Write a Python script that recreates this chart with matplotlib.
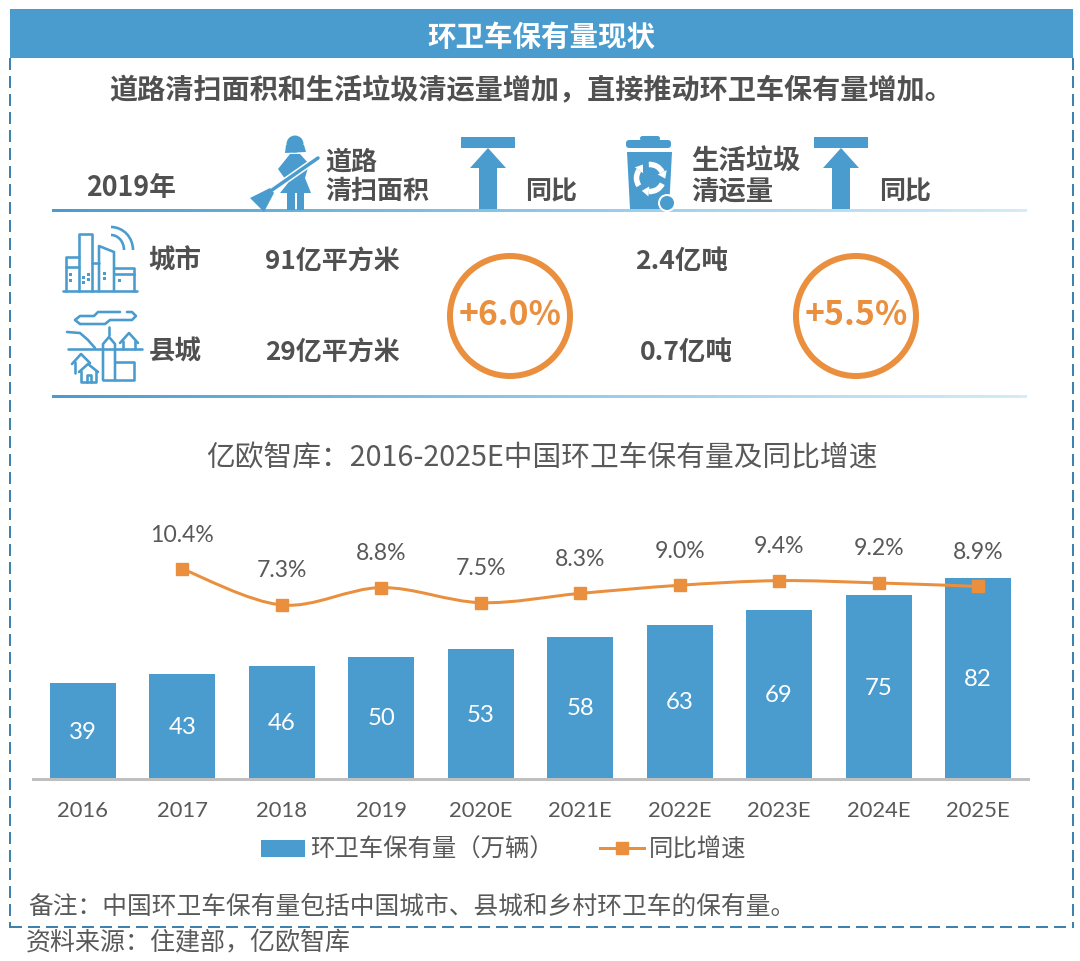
import matplotlib
matplotlib.use('Agg')
import matplotlib.pyplot as plt
import numpy as np
from matplotlib.patches import Rectangle, Circle, Polygon, FancyBboxPatch, PathPatch, Arc
from matplotlib.path import Path
from matplotlib.colors import LinearSegmentedColormap
from matplotlib.lines import Line2D

plt.rcParams['font.family'] = ['Noto Sans CJK SC', 'DejaVu Sans']

# chart data
years = ['2016', '2017', '2018', '2019', '2020E', '2021E', '2022E', '2023E', '2024E', '2025E']
fleet = [39, 43, 46, 50, 53, 58, 63, 69, 75, 82]
growth = [None, 10.4, 7.3, 8.8, 7.5, 8.3, 9.0, 9.4, 9.2, 8.9]

# summary table text
row_names = ['城市', '县城']
road_area = ['91亿平方米', '29亿平方米']
garbage = ['2.4亿吨', '0.7亿吨']
road_yoy = '+6.0%'
garbage_yoy = '+5.5%'

BLUE = '#4A9CCE'
ORANGE = '#E98F3D'
DARK = '#505050'
GREY = '#595959'
NUM_FONT = ['Lato', 'Noto Sans CJK SC']
W, H = 1080, 961

fig = plt.figure(figsize=(W / 100, H / 100), dpi=100)

# overlay in pixel coordinates for the infographic part
ov = fig.add_axes([0, 0, 1, 1])
ov.set_xlim(0, W)
ov.set_ylim(H, 0)
ov.axis('off')

def px(v):
    return v * 0.72

def label(x, y, s, size, color=DARK, weight='bold', ha='left'):
    # the CJK face sits a little high when centred, hence the nudge
    ov.text(x, y + 2.5, s, fontsize=px(size), color=color, fontweight=weight, ha=ha, va='center', zorder=4)

def rule(y):
    cmap = LinearSegmentedColormap.from_list('r', [BLUE, '#8FC8E8', '#D5EBF7'])
    ov.imshow(np.linspace(0, 1, 256).reshape(1, -1), cmap=cmap, aspect='auto',
              extent=(52, 1027, y + 1.5, y - 1.5), zorder=1)

def lines(pts, lw=2.6, color=BLUE):
    xs, ys = zip(*pts)
    ov.add_line(Line2D(xs, ys, lw=px(lw), color=color, solid_capstyle='round', solid_joinstyle='round', zorder=3))

def up_arrow(xc):
    ov.add_patch(Rectangle((xc - 27, 137), 54, 10.5, fc=BLUE, ec='none', zorder=3))
    ov.add_patch(Polygon([(xc, 148), (xc + 18, 168), (xc + 9, 168), (xc + 9, 209), (xc - 9, 209),
                          (xc - 9, 168), (xc - 18, 168)], fc=BLUE, ec='none', zorder=3))

def sweeper():
    ov.add_patch(Circle((295, 144), 8.5, fc=BLUE, ec='none', zorder=3))
    ov.add_patch(Polygon([(286, 145), (304, 145), (306, 152), (285, 153)], fc=BLUE, ec='none', zorder=3))
    ov.add_patch(Polygon([(290, 154), (300, 154), (309, 164), (305, 178), (311, 193), (280, 193),
                          (288, 183), (278, 169)], fc=BLUE, ec='none', zorder=3))
    ov.add_patch(Rectangle((287, 193), 8, 17, fc=BLUE, ec='none', zorder=3))
    ov.add_patch(Rectangle((297, 193), 7, 17, fc=BLUE, ec='none', zorder=3))
    lines([(272, 190), (318, 158)], lw=6.5, color='white')
    lines([(272, 190), (318, 158)], lw=3.5)
    ov.add_patch(Polygon([(250, 198), (270, 188), (274, 193), (264, 212)], fc=BLUE, ec='none', zorder=4))

def trash_can():
    ov.add_patch(FancyBboxPatch((640, 136), 20, 5, boxstyle='round,pad=0,rounding_size=2.5', fc=BLUE, ec='none', zorder=3))
    ov.add_patch(FancyBboxPatch((626, 140), 45, 8, boxstyle='round,pad=0,rounding_size=3', fc=BLUE, ec='none', zorder=3))
    ov.add_patch(Polygon([(627, 152), (672, 152), (669, 209), (630, 209)], fc=BLUE, ec='none', zorder=3))
    ov.add_patch(Circle((667, 203), 8, fc=BLUE, ec='white', lw=px(2), zorder=4))
    # recycling mark
    for a in [25, 145, 265]:
        ov.add_patch(Arc((650, 178), 27, 27, theta1=a, theta2=a + 70, color='white', lw=px(5.5), zorder=4))
        t = np.deg2rad(a + 70)
        x0, y0 = 650 + 13.5 * np.cos(t), 178 + 13.5 * np.sin(t)
        ov.add_patch(Polygon([(x0 - 5 * np.cos(t), y0 - 5 * np.sin(t)), (x0 + 5 * np.cos(t), y0 + 5 * np.sin(t)),
                              (x0 - 7 * np.sin(t), y0 + 7 * np.cos(t))], fc='white', ec='none', zorder=4))

def city():
    lines([(63, 291), (137, 291)])
    lines([(66, 291), (66, 257), (79, 257), (79, 291)])
    lines([(66, 267), (79, 267)])
    lines([(79, 257), (79, 234), (92, 234), (92, 291)])
    lines([(92, 263), (99, 263)])
    lines([(99, 291), (99, 246), (114, 252), (114, 291)])
    lines([(114, 268), (134, 268), (134, 291)])
    lines([(114, 274), (134, 274)])
    ov.add_patch(Arc((111, 250), 44, 46, theta1=270, theta2=360, color=BLUE, lw=px(2.6), zorder=3))
    ov.add_patch(Arc((111, 250), 26, 30, theta1=270, theta2=360, color=BLUE, lw=px(2.6), zorder=3))
    for x, y in [(69, 273), (69, 279), (82, 276), (82, 281), (87, 273), (87, 278), (103, 272), (103, 277), (118, 279)]:
        ov.add_patch(Rectangle((x, y), 2.5, 2.5, fc=BLUE, ec='none', zorder=3))

def county():
    lines([(80, 324), (105, 324), (110, 320), (132, 320), (136, 316), (132, 312), (127, 312)])
    lines([(120, 312), (98, 312), (94, 316), (80, 316), (75, 320), (80, 324)])
    lines([(68, 349), (142, 349)])
    lines([(67, 332), (80, 333), (88, 340), (95, 348)])
    lines([(109, 327), (109, 335)])
    lines([(103, 380), (103, 344), (109, 337), (115, 344), (115, 380)])
    lines([(115, 362), (134, 362), (134, 380), (103, 380)])
    lines([(120, 343), (129, 333), (138, 343)])
    lines([(123, 341), (123, 349)])
    lines([(135, 341), (135, 349)])
    lines([(72, 364), (81, 354), (90, 363)])
    lines([(75, 362), (75, 373)])
    lines([(79, 372), (88, 364), (98, 372)])
    lines([(81, 371), (81, 382), (96, 382), (96, 371)])
    lines([(87, 382), (87, 375), (91, 375), (91, 382)])

# header and dashed frame
for xs, ys in [((10, 10), (58, 928)), ((1073, 1073), (58, 928)), ((10, 1073), (927, 927))]:
    ov.add_line(Line2D(xs, ys, lw=px(2), color='#3F82AD', ls=(0, (6, 3)), zorder=2))
ov.add_patch(Rectangle((10, 9), 1063, 49, fc=BLUE, ec='none', zorder=3))
label(541, 35.5, '环卫车保有量现状', 28.5, color='white', ha='center')
label(531, 89, '道路清扫面积和生活垃圾清运量增加，直接推动环卫车保有量增加。', 28.15, ha='center')

# table header
rule(211)
rule(397)
label(131, 185, '2019年', 26.8, ha='center')
label(325, 159, '道路', 26)
label(325, 189, '清扫面积', 26)
label(525, 189.5, '同比', 26)
label(691, 159, '生活垃圾', 27.4)
label(691, 189, '清运量', 27.4)
label(879, 189.5, '同比', 26)
up_arrow(488)
up_arrow(841)
sweeper()
trash_can()
city()
county()

# table rows
for y, name, area, amount, cx in zip([259, 350], row_names, road_area, garbage, [682, 686]):
    label(175, y, name, 26.5, ha='center')
    label(332, y, area, 26, ha='center')
    label(cx, y, amount, 26.5, ha='center')

for xc, s in [(510, road_yoy), (856, garbage_yoy)]:
    ov.add_patch(Circle((xc, 316), 60, fc='none', ec=ORANGE, lw=px(6), zorder=3))
    label(xc, 313, s, 33.7, color=ORANGE, ha='center')

label(542, 456, '亿欧智库：2016-2025E中国环卫车保有量及同比增速', 28.7, color=GREY, weight='normal', ha='center')
label(28, 904, '备注：中国环卫车保有量包括中国城市、县城和乡村环卫车的保有量。', 24.7, color=GREY, weight='normal')
label(26, 941, '资料来源：住建部，亿欧智库', 25, color=GREY, weight='normal')

# bar chart
left, right, top, bottom = 33.25, 1027.75, 500, 779
ax = fig.add_axes([left / W, 1 - bottom / H, (right - left) / W, (bottom - top) / H])
ax.patch.set_alpha(0)
x = np.arange(len(years))
ax.bar(x, fleet, width=0.665, color=BLUE, zorder=2)
for xi, v in zip(x, fleet):
    ax.annotate(str(v), (xi, v / 2), xytext=(0, px(-1)), textcoords='offset points', color='white',
                fontsize=px(24), family=NUM_FONT, ha='center', va='center', zorder=3)
ax.set_xlim(-0.5, 9.5)
ax.set_ylim(0, 113.9)
ax.set_xticks(x)
ax.set_xticklabels(years, fontsize=px(22), color=GREY, family=NUM_FONT)
ax.tick_params(axis='x', length=0, pad=16)
ax.set_yticks([])
for s in ['top', 'left', 'right']:
    ax.spines[s].set_visible(False)
ax.spines['bottom'].set_color('#BFBFBF')
ax.spines['bottom'].set_linewidth(px(3))

# growth line on its own scale, smoothed like the source chart
ax2 = ax.twinx()
ax2.set_ylim(-7.7, 16.35)
ax2.set_yticks([])
for s in ax2.spines.values():
    s.set_visible(False)
gx = x[1:].astype(float)
gy = np.array(growth[1:], dtype=float)
verts = [(gx[0], gy[0])]
codes = [Path.MOVETO]
for i in range(len(gx) - 1):
    p0 = i - 1 if i > 0 else i
    p3 = i + 2 if i + 2 < len(gx) else i + 1
    verts.append((gx[i] + (gx[i + 1] - gx[p0]) / 6, gy[i] + (gy[i + 1] - gy[p0]) / 6))
    verts.append((gx[i + 1] - (gx[p3] - gx[i]) / 6, gy[i + 1] - (gy[p3] - gy[i]) / 6))
    verts.append((gx[i + 1], gy[i + 1]))
    codes += [Path.CURVE4] * 3
ax2.add_patch(PathPatch(Path(verts, codes), fc='none', ec=ORANGE, lw=px(3), zorder=4))
ax2.plot(gx, gy, ls='none', marker='s', ms=px(12), color=ORANGE, zorder=5)
for xi, v in zip(gx, gy):
    ax2.annotate(f'{v:.1f}%', (xi, v), xytext=(0, px(34)), textcoords='offset points', ha='center', va='center',
                 fontsize=px(23), color=GREY, family=NUM_FONT)

# legend
handles = [Rectangle((0, 0), 1, 1, fc=BLUE, ec='none'),
           Line2D([], [], color=ORANGE, lw=px(3), marker='s', ms=px(12))]
fig.legend(handles, ['环卫车保有量（万辆）', '同比增速'], ncol=2, loc='center', bbox_to_anchor=(503.5 / W, 1 - 850 / H),
           frameon=False, fontsize=px(24.4), labelcolor=GREY, handlelength=1.8, handletextpad=0.2, columnspacing=1.89)

fig.savefig('out.png', dpi=100)
